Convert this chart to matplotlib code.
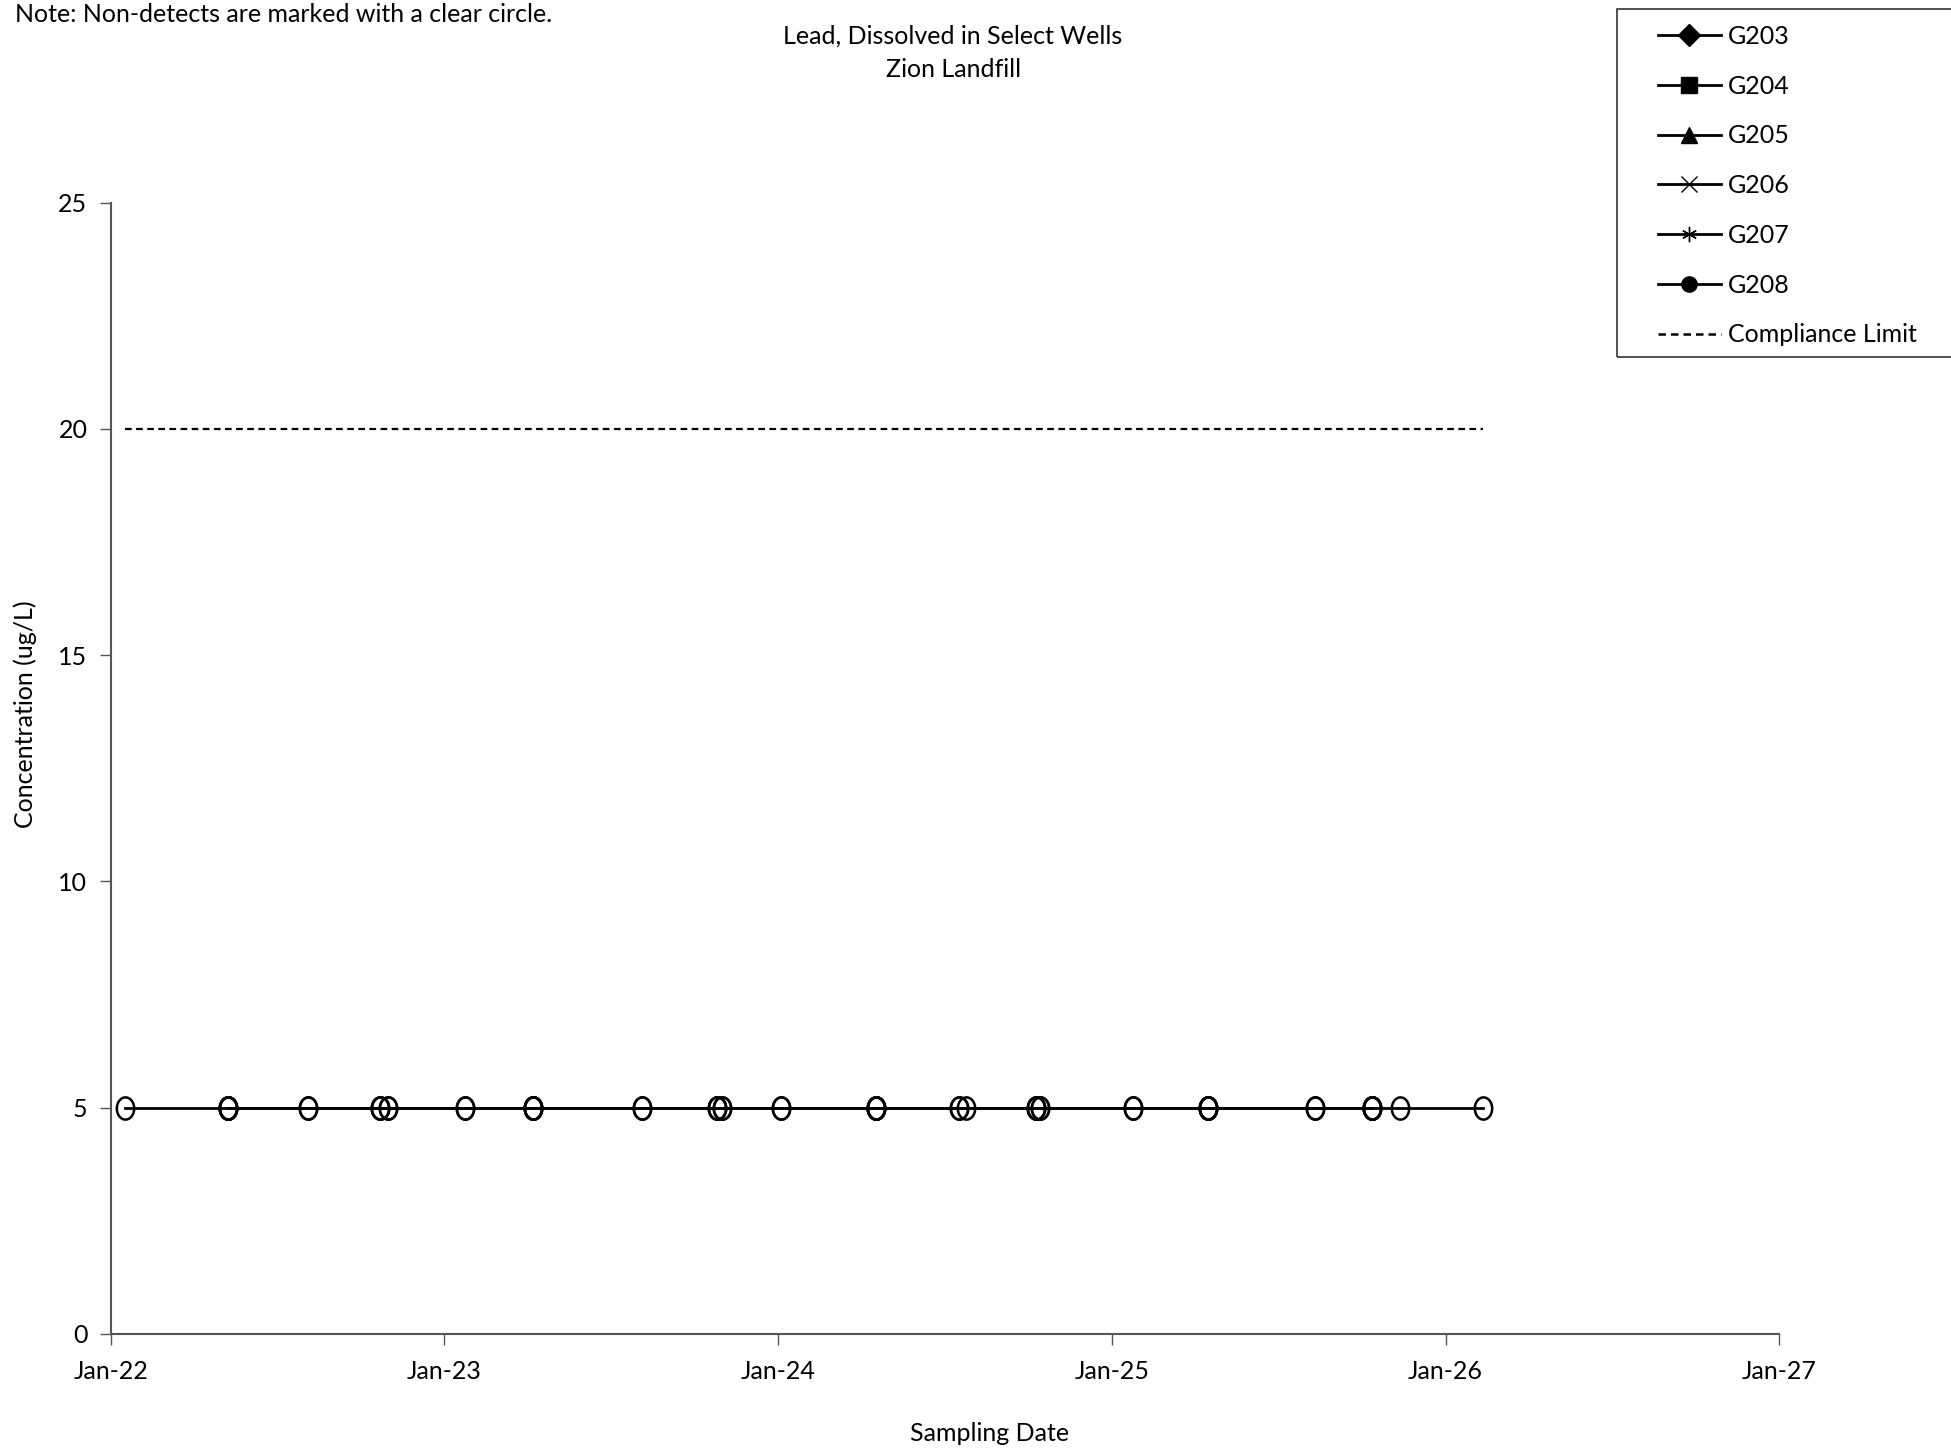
import numpy as np
import pandas as pd
import matplotlib
matplotlib.use("Agg")
import matplotlib.pyplot as plt
import matplotlib.dates as mdates
from matplotlib.path import Path
from matplotlib.lines import Line2D
from matplotlib.patches import Rectangle

plt.rcParams['font.family'] = ['Lato', 'DejaVu Sans']

# sampling dates per well (all non-detects at 5 ug/L)
g203_dates = ["2022-05-09", "2022-10-23", "2023-04-08", "2023-10-26",
              "2024-04-18", "2024-10-10", "2025-04-16", "2025-10-13"]
g204_dates = ["2022-05-09", "2022-10-31", "2023-04-08", "2023-11-01",
              "2024-04-18", "2024-10-14", "2025-04-16", "2025-10-13"]
g205_dates = ["2022-08-05", "2023-01-23", "2023-08-05", "2024-01-05",
              "2024-07-17", "2025-01-24", "2025-08-11", "2025-10-13"]
g206_dates = ["2022-05-09", "2022-10-23", "2023-04-08", "2023-10-26",
              "2024-04-18", "2024-10-10", "2025-04-16", "2025-10-13"]
g207_dates = ["2022-05-09", "2022-10-31", "2023-04-08", "2023-11-01",
              "2024-04-18", "2024-07-25", "2024-10-14", "2025-04-16"]
g208_dates = ["2022-01-16", "2022-05-09", "2022-08-05", "2022-10-23",
              "2023-01-23", "2023-04-08", "2023-08-05", "2023-10-26",
              "2024-01-05", "2024-04-18", "2024-07-17", "2024-10-10",
              "2025-01-24", "2025-04-16", "2025-08-11", "2025-10-13",
              "2025-11-12", "2026-02-11"]
nd_value = 5.0
compliance_limit = 20.0

wells = ["G203", "G204", "G205", "G206", "G207", "G208"]
well_dates = [g203_dates, g204_dates, g205_dates, g206_dates, g207_dates, g208_dates]
legend_markers = ["D", "s", "^", "x", (6, 2, 0), "o"]

# slightly squashed circle, as in the original picture
t = np.linspace(0, 2 * np.pi, 60)
oval = Path(np.column_stack([0.78 * np.cos(t), np.sin(t)]), closed=True)

fig = plt.figure(figsize=(19.51, 14.49), dpi=100)
ax = fig.add_axes([0.0569, 0.0794, 0.8549, 0.7807])

all_dates = []
for dates in well_dates:
    d = pd.to_datetime(dates)
    all_dates.extend(d)
    ax.plot(d, [nd_value] * len(d), color="black", lw=2.0, marker=oval,
            markersize=16, markerfacecolor="none", markeredgecolor="black",
            markeredgewidth=1.8, zorder=3)

ax.plot([min(all_dates), max(all_dates)], [compliance_limit] * 2,
        color="black", lw=1.6, ls=(0, (3, 2)))

ax.set_xlim(pd.Timestamp("2022-01-01"), pd.Timestamp("2027-01-01"))
ax.set_ylim(0, 25)
ax.set_yticks([0, 5, 10, 15, 20, 25])
ax.xaxis.set_major_locator(mdates.YearLocator())
ax.xaxis.set_major_formatter(mdates.DateFormatter("%b-%y"))
ax.tick_params(axis="both", labelsize=18, length=8, width=1, color="#555555")
ax.tick_params(axis="x", pad=11)
ax.tick_params(axis="y", pad=9)
for s in ["top", "right"]:
    ax.spines[s].set_visible(False)
for s in ["left", "bottom"]:
    ax.spines[s].set_color("#555555")
    ax.spines[s].set_linewidth(1.5)

fig.text(0.0077, 0.990, "Note: Non-detects are marked with a clear circle.",
         fontsize=18, ha="left", va="center")
fig.text(0.4885, 0.975, "Lead, Dissolved in Select Wells", fontsize=18,
         ha="center", va="center")
fig.text(0.4885, 0.952, "Zion Landfill", fontsize=18, ha="center", va="center")
fig.text(0.013, 0.507, "Concentration (ug/L)", fontsize=18, rotation=90,
         ha="center", va="center")
fig.text(0.507, 0.0104, "Sampling Date", fontsize=18, ha="center", va="center")

# legend box runs off the right edge like the original
fig.patches.append(Rectangle((0.8288, 1 - 357 / 1449), 0.3, (357 - 9) / 1449,
                             transform=fig.transFigure, fill=False,
                             edgecolor="#333333", lw=1.2))
handles = [Line2D([], [], color="black", lw=2.0, marker=m, markersize=11,
                  markerfacecolor="black", markeredgecolor="black")
           for m in legend_markers]
handles.append(Line2D([], [], color="black", lw=1.8, ls=(0, (3, 2))))
leg = fig.legend(handles, wells + ["Compliance Limit"], loc="upper left",
                 bbox_to_anchor=(0.846, 0.988), fontsize=18, frameon=False,
                 handlelength=2.5, handletextpad=0.3, labelspacing=1.07,
                 borderpad=0.3, borderaxespad=0)

plt.savefig("out.png", dpi=100)
